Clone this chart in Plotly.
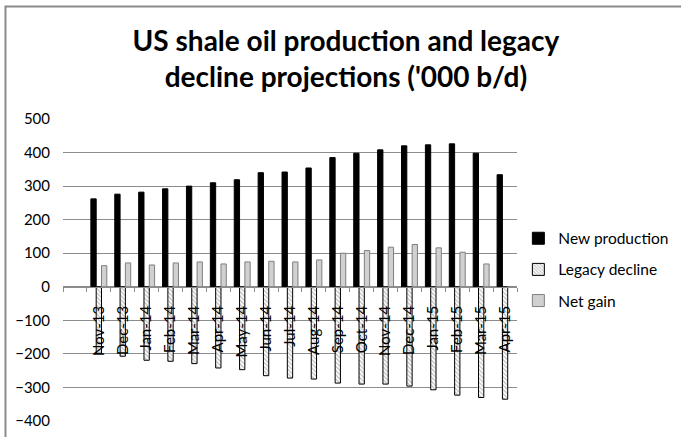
import plotly.graph_objects as go

categories = ["Nov-13", "Dec-13", "Jan-14", "Feb-14", "Mar-14", "Apr-14", "May-14",
              "Jun-14", "Jul-14", "Aug-14", "Sep-14", "Oct-14", "Nov-14", "Dec-14",
              "Jan-15", "Feb-15", "Mar-15", "Apr-15"]
new_production = [262, 276, 282, 292, 300, 310, 319, 340, 342, 354, 385, 398, 408, 420,
                  423, 426, 398, 334]
legacy_decline = [-198, -207, -219, -222, -229, -242, -247, -265, -272, -275, -287, -290,
                  -290, -296, -307, -323, -330, -335]
net_gain = [63, 71, 65, 71, 74, 68, 74, 76, 74, 80, 100, 108, 118, 126, 116, 103, 68, 0]
y_ticks = [-400, -300, -200, -100, 0, 100, 200, 300, 400, 500]

FONT = "Lato"
GRID = "#8c8c8c"
all_categories = [" "] + categories

fig = go.Figure()
fig.add_trace(go.Bar(x=categories, y=new_production, name="New production",
                     legendgroup="a",
                     marker=dict(color="#000000", line=dict(color="#000000", width=1))))
fig.add_trace(go.Bar(x=categories, y=legacy_decline, name="Legacy decline",
                     legendgroup="b",
                     marker=dict(color="#ffffff",
                                 pattern=dict(shape="\\", fgcolor="#7a7a7a", bgcolor="#ffffff",
                                              size=3, solidity=0.4),
                                 line=dict(color="#000000", width=1))))
fig.add_trace(go.Bar(x=categories, y=net_gain, name="Net gain",
                     legendgroup="c",
                     marker=dict(color="#d0d0d0", line=dict(color="#7f7f7f", width=1))))

fig.update_layout(
    width=681, height=437,
    margin=dict(l=63, r=164, t=119, b=16, autoexpand=False),
    paper_bgcolor="#ffffff", plot_bgcolor="#ffffff",
    barmode="group", bargap=0.333, bargroupgap=0,
    font=dict(family=FONT, color="#000000"),
    title=dict(text="<b>US shale oil production and legacy<br>decline projections ('000 b/d)</b>",
               x=0.508, xanchor="center", y=0.884, yanchor="middle",
               font=dict(family=FONT, size=28, color="#000000")),
    showlegend=True,
    legend=dict(x=1.003, xanchor="left", y=0.66, yanchor="top",
                traceorder="grouped", tracegroupgap=8,
                font=dict(family=FONT, size=15.5, color="#000000"),
                bgcolor="rgba(0,0,0,0)"),
    xaxis=dict(type="category", categoryorder="array", categoryarray=all_categories,
               range=[-0.5, len(all_categories) - 0.5],
               anchor="free", position=4 / 9,
               showline=True, linecolor=GRID, linewidth=1,
               showgrid=False, tickson="boundaries",
               ticks="outside", ticklen=4, tickcolor=GRID,
               tickangle=-90, ticklabelstandoff=12,
               tickfont=dict(family=FONT, size=15, color="#000000")),
    yaxis=dict(range=[-400, 500], tickvals=y_ticks, showgrid=True, gridcolor=GRID,
               gridwidth=1, zeroline=True, zerolinecolor=GRID, zerolinewidth=1,
               showline=False, ticks="", ticklabelstandoff=12,
               tickfont=dict(family=FONT, size=15, color="#000000")),
    shapes=[dict(type="rect", xref="paper", yref="paper",
                 x0=-0.1267, x1=1.6, y0=-0.3, y1=1.3725,
                 line=dict(color="#8a8a8a", width=2), layer="below")],
)

fig.write_html("out.html")
